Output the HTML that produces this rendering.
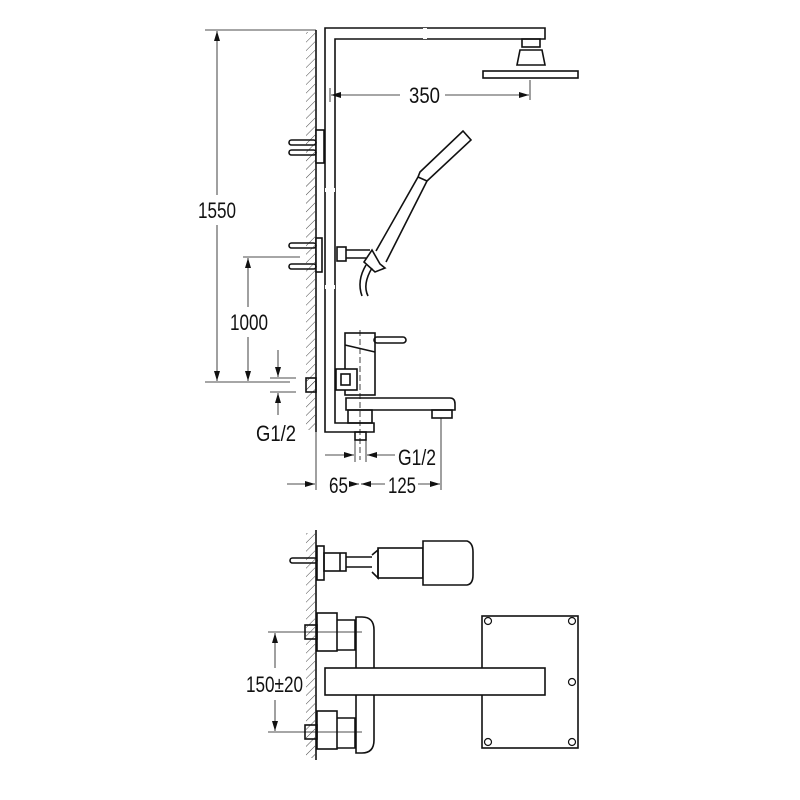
<!DOCTYPE html>
<html><head><meta charset="utf-8"><style>
html,body{margin:0;padding:0;background:#fff;}
svg{display:block}
text{font-family:"Liberation Sans Narrow","Liberation Sans",sans-serif;font-size:22px;fill:#111;}
</style></head><body>
<svg width="800" height="800" viewBox="0 0 800 800" xmlns="http://www.w3.org/2000/svg">
<defs>
<pattern id="h" width="6" height="6" patternUnits="userSpaceOnUse" patternTransform="rotate(45)">
<line x1="0" y1="0" x2="0" y2="6" stroke="#333" stroke-width="0.9"/>
</pattern>
<marker id="a" markerWidth="10" markerHeight="6" refX="10" refY="3" orient="auto-start-reverse" markerUnits="userSpaceOnUse"><path d="M0,0 L10,3 L0,6 z" fill="#111"/></marker>
</defs>
<g stroke="#111" fill="none" stroke-width="1.6">
<rect x="306" y="32" width="9" height="398" fill="url(#h)" stroke="none"/>
<line x1="316" y1="30" x2="316" y2="432"/>
<path d="M325,432 V28 H545 V39 H335 V423 H374 V432 Z" fill="#fff"/>
<line x1="325" y1="190" x2="335" y2="190" stroke="#fff" stroke-width="4"/>
<line x1="325" y1="287" x2="335" y2="287" stroke="#fff" stroke-width="4"/>
<line x1="425" y1="28" x2="425" y2="39" stroke="#fff" stroke-width="4"/>
<rect x="522" y="39" width="18" height="8"/>
<path d="M520,50 H542 L545,65 H517 Z"/>
<rect x="483" y="71" width="95" height="7" fill="#fff"/>
<rect x="316" y="130" width="8" height="33" fill="#fff"/>
<rect x="289" y="140" width="27" height="5" rx="2.5"/>
<rect x="289" y="150" width="27" height="5" rx="2.5"/>
<rect x="316" y="238" width="6" height="34" fill="#fff"/>
<rect x="289" y="243" width="27" height="5" rx="2.5"/>
<rect x="289" y="264" width="27" height="5" rx="2.5"/>
<rect x="337" y="247" width="9" height="14"/>
<path d="M346,250 H370 M346,258 H366"/>
<path d="M372,250 L380,264 L385,268 L375,272 L364,262 Z" fill="#fff"/>
<path d="M376,251 L418,177 L420,172 L463,131 L471,140 L427,181 L386,262"/>
<path d="M418,177 L427,181"/>
<path d="M366,265 C360,275 358,285 362,296 M372,268 C366,278 364,288 368,296"/>
<rect x="345" y="333" width="30" height="62" fill="#fff"/>
<rect x="374" y="337" width="32" height="6" rx="3"/>
<path d="M345,345 L375,352"/>
<rect x="336" y="369" width="21" height="21" fill="#fff"/>
<rect x="341" y="374" width="9" height="11"/>
<path d="M346,398 H450 Q455,398 455,404 V410 H346 Z" fill="#fff"/>
<rect x="432" y="410" width="20" height="8"/>
<rect x="348" y="410" width="24" height="13"/>
<rect x="355" y="432" width="11" height="8"/>
<rect x="306" y="378" width="10" height="14" fill="url(#h)"/>
</g>
<g stroke="#111" stroke-width="0.8" fill="none">
<line x1="360" y1="330" x2="360" y2="460" stroke-dasharray="6,3"/>
<line x1="205" y1="30" x2="316" y2="30"/>
<line x1="205" y1="382" x2="290" y2="382"/>
<line x1="217" y1="195" x2="217" y2="31" marker-end="url(#a)"/>
<line x1="217" y1="225" x2="217" y2="381" marker-end="url(#a)"/>
<line x1="243" y1="257" x2="300" y2="257"/>
<line x1="248" y1="307" x2="248" y2="258" marker-end="url(#a)"/>
<line x1="248" y1="337" x2="248" y2="381" marker-end="url(#a)"/>
<line x1="270" y1="378" x2="296" y2="378"/>
<line x1="270" y1="392" x2="296" y2="392"/>
<line x1="278" y1="350" x2="278" y2="377" marker-end="url(#a)"/>
<line x1="278" y1="415" x2="278" y2="393" marker-end="url(#a)"/>
<line x1="330" y1="88" x2="330" y2="102"/>
<line x1="530" y1="80" x2="530" y2="100"/>
<line x1="400" y1="95" x2="331" y2="95" marker-end="url(#a)"/>
<line x1="445" y1="95" x2="529" y2="95" marker-end="url(#a)"/>
<line x1="316" y1="432" x2="316" y2="490"/>
<line x1="355" y1="440" x2="355" y2="462"/>
<line x1="366" y1="440" x2="366" y2="462"/>
<line x1="441" y1="418" x2="441" y2="490"/>
<line x1="325" y1="455" x2="354" y2="455" marker-end="url(#a)"/>
<line x1="395" y1="455" x2="367" y2="455" marker-end="url(#a)"/>
<line x1="287" y1="484" x2="315" y2="484" marker-end="url(#a)"/>
<line x1="350" y1="484" x2="359" y2="484" marker-end="url(#a)"/>
<line x1="385" y1="484" x2="361" y2="484" marker-end="url(#a)"/>
<line x1="418" y1="484" x2="440" y2="484" marker-end="url(#a)"/>
</g>
<text x="198" y="218" textLength="38" lengthAdjust="spacingAndGlyphs">1550</text>
<text x="230" y="330" textLength="38" lengthAdjust="spacingAndGlyphs">1000</text>
<text x="256" y="441" textLength="40" lengthAdjust="spacingAndGlyphs">G1/2</text>
<text x="409" y="103" textLength="31" lengthAdjust="spacingAndGlyphs">350</text>
<text x="398" y="465" textLength="38" lengthAdjust="spacingAndGlyphs">G1/2</text>
<text x="329" y="493" textLength="19" lengthAdjust="spacingAndGlyphs">65</text>
<text x="388" y="493" textLength="28" lengthAdjust="spacingAndGlyphs">125</text>
<text x="246" y="692" textLength="57" lengthAdjust="spacingAndGlyphs">150±20</text>
<g stroke="#111" fill="none" stroke-width="1.6">
<rect x="306" y="533" width="9" height="225" fill="url(#h)" stroke="none"/>
<line x1="316" y1="530" x2="316" y2="760"/>
<rect x="317" y="546" width="7" height="34" fill="#fff"/>
<rect x="290" y="558" width="27" height="5" rx="2.5"/>
<rect x="324" y="553" width="22" height="18"/>
<line x1="340" y1="553" x2="340" y2="571"/>
<path d="M346,557 H372 M346,567 H372"/>
<path d="M372,555 L378,550 V578 L372,572"/>
<rect x="378" y="548" width="45" height="30"/>
<path d="M423,541 H467 Q473,543 473,552 V575 Q473,584 467,585 H423 Z" fill="#fff"/>
<rect x="317" y="613" width="20" height="38" fill="#fff"/>
<rect x="317" y="711" width="20" height="38" fill="#fff"/>
<path d="M337,620 H355 V650 H337 M337,718 H355 V748 H337"/>
<rect x="305" y="625" width="12" height="14"/>
<rect x="305" y="725" width="12" height="14"/>
<path d="M356,617 H362 Q374,617 374,630 V740 Q374,753 362,753 H356 Z" fill="#fff"/>
<rect x="482" y="616" width="96" height="132"/>
<rect x="325" y="668" width="220" height="27" fill="#fff"/>
<g stroke-width="1.2">
<circle cx="488" cy="621" r="3.5"/><circle cx="572" cy="621" r="3.5"/>
<circle cx="572" cy="682" r="3.5"/>
<circle cx="488" cy="742" r="3.5"/><circle cx="572" cy="742" r="3.5"/>
</g>
</g>
<g stroke="#111" stroke-width="0.8" fill="none">
<line x1="268" y1="632" x2="362" y2="632"/>
<line x1="268" y1="732" x2="362" y2="732"/>
<line x1="275" y1="668" x2="275" y2="633" marker-end="url(#a)"/>
<line x1="275" y1="700" x2="275" y2="731" marker-end="url(#a)"/>
</g>
</svg>
</body></html>
